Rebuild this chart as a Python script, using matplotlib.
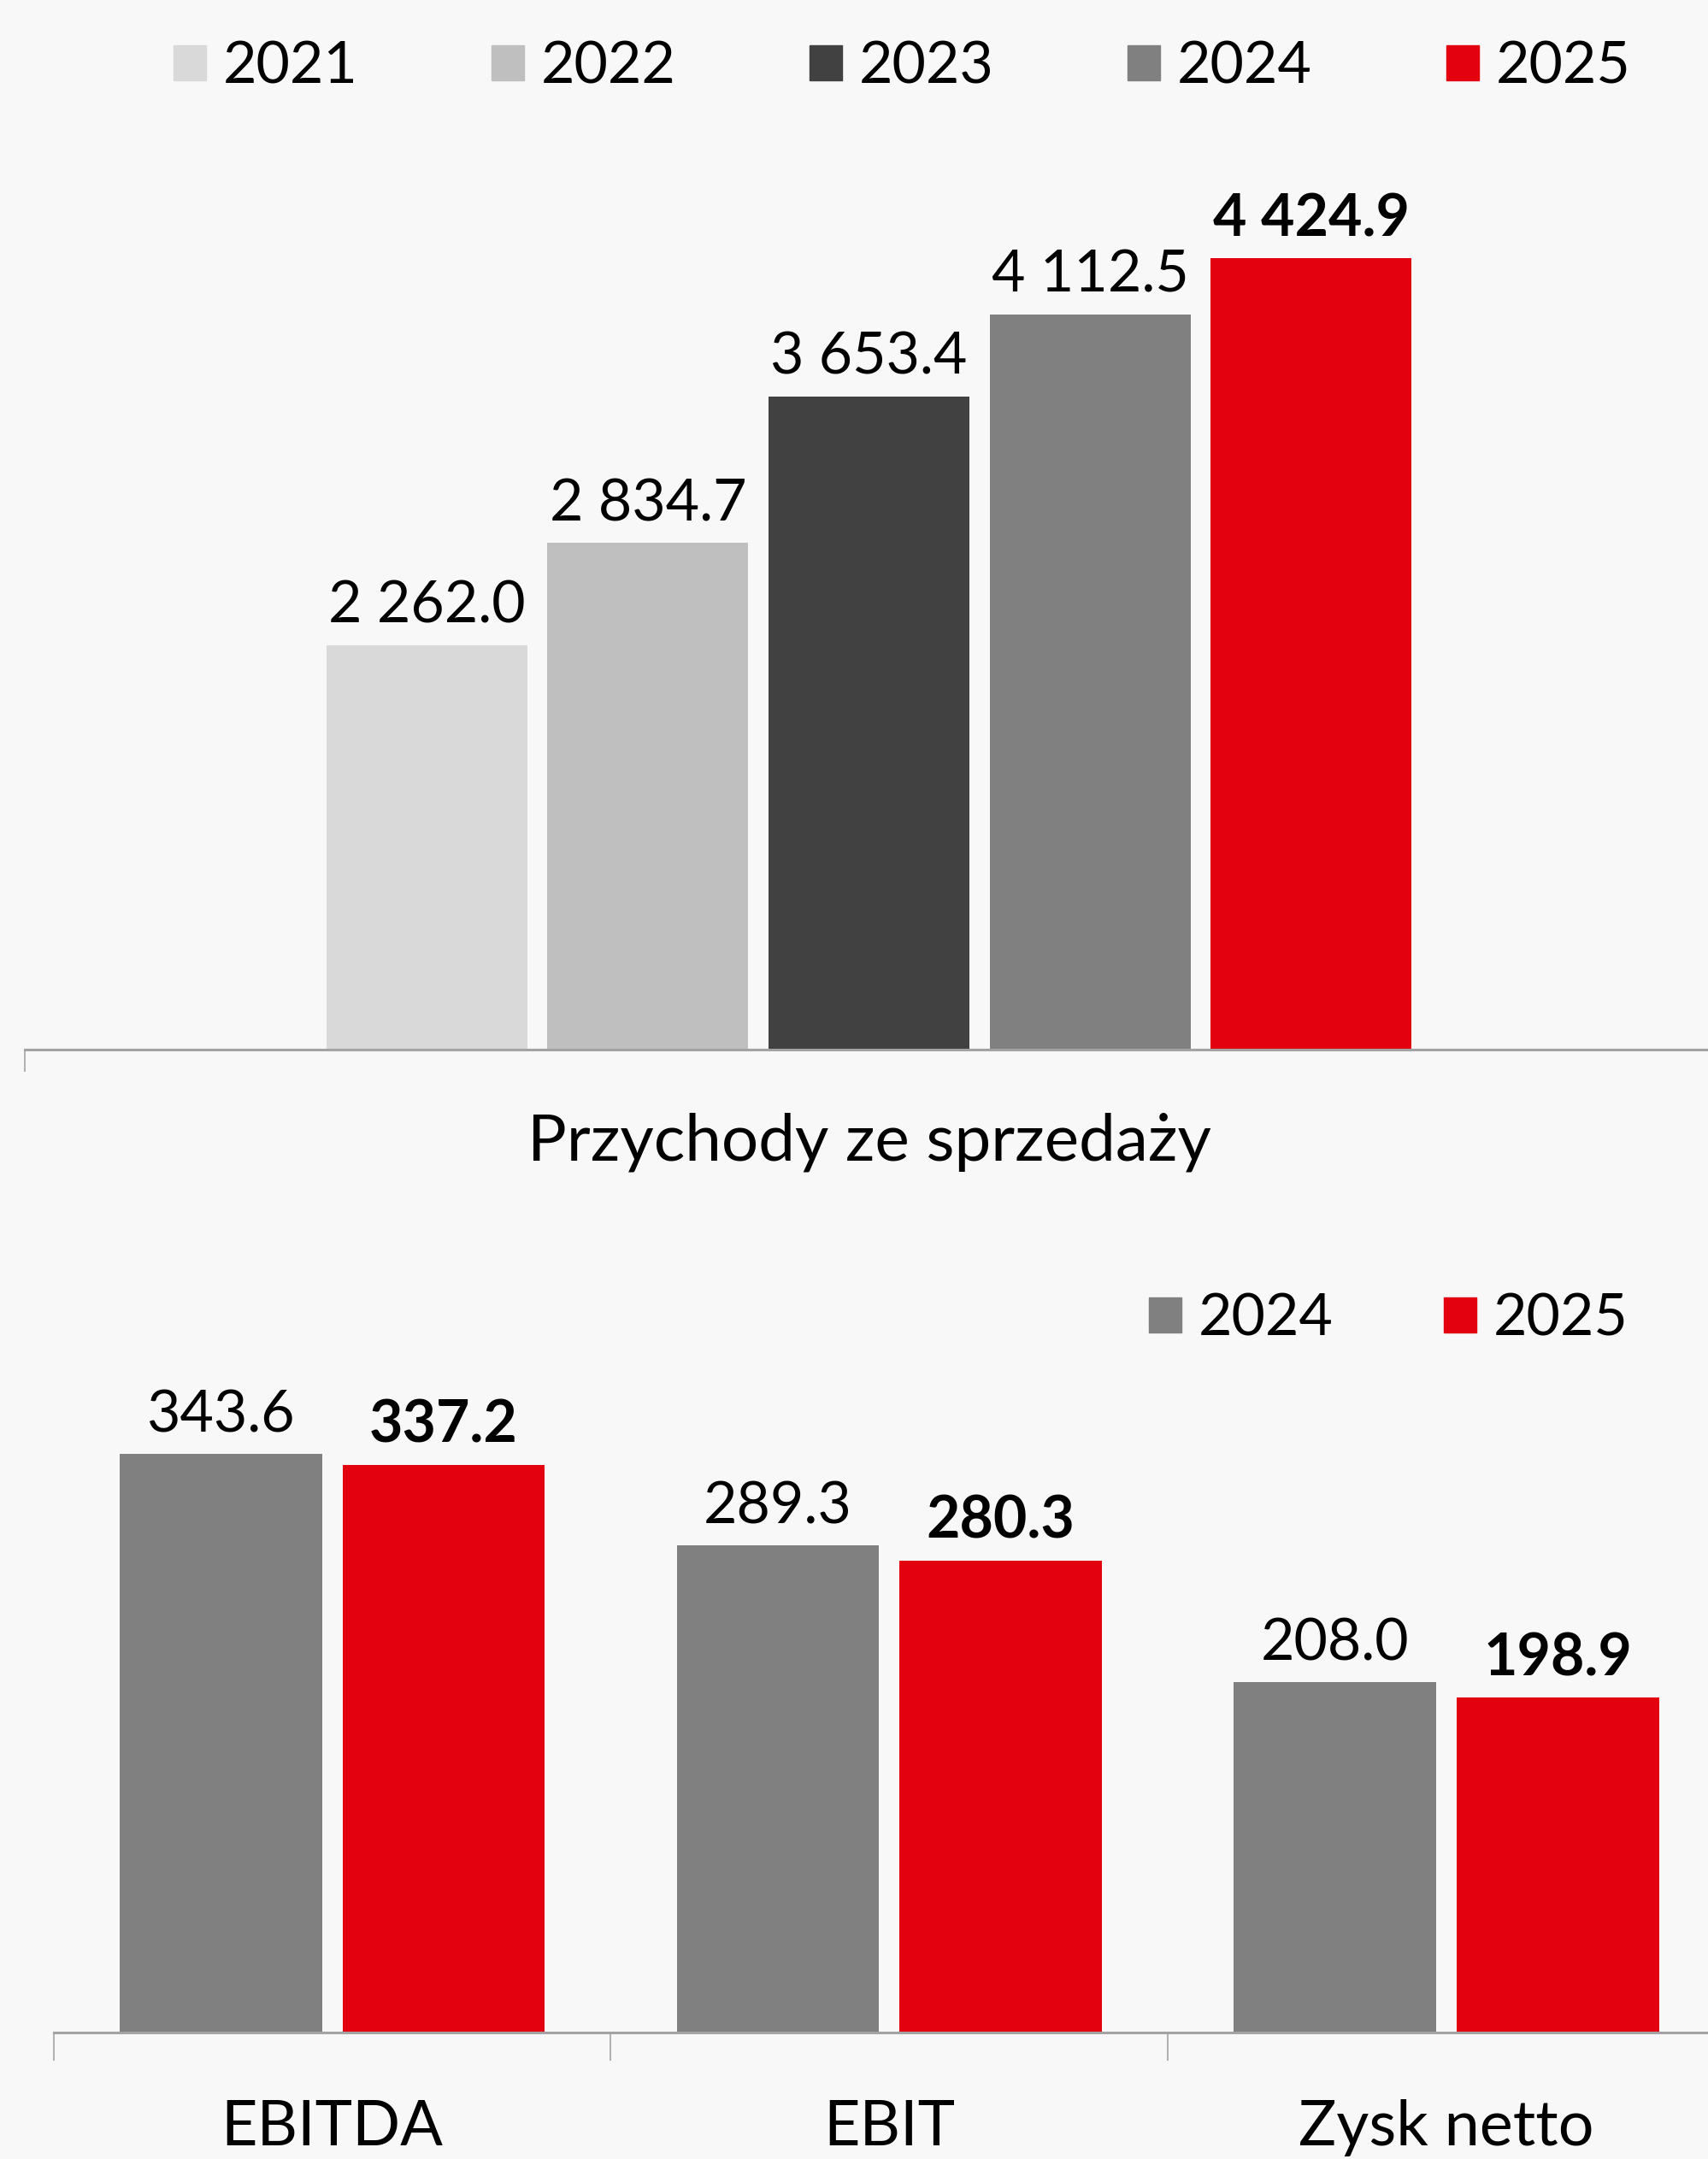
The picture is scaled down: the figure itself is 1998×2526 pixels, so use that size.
import matplotlib
matplotlib.use("Agg")
import matplotlib.pyplot as plt
from matplotlib.patches import Patch
from matplotlib.transforms import blended_transform_factory

plt.rcParams['font.family'] = ['Lato', 'DejaVu Sans']

# data
years = ['2021', '2022', '2023', '2024', '2025']
year_colors = ['#D9D9D9', '#BFBFBF', '#414141', '#808080', '#E3000F']
sales_label = 'Przychody ze sprzedaży'
sales = [2262.0, 2834.7, 3653.4, 4112.5, 4424.9]

metrics = ['EBITDA', 'EBIT', 'Zysk netto']
vals_2024 = [343.6, 289.3, 208.0]
vals_2025 = [337.2, 280.3, 198.9]

bg = '#F8F8F8'
fs = 49
axis_col = '#A3A3A3'


def fmt(v):
    return f"{v:,.1f}".replace(",", " ")


fig = plt.figure(figsize=(19.98, 25.26), dpi=100, facecolor=bg)

# ---------- top chart ----------
ax1 = fig.add_axes([0.0145, 0.5139, 0.9885, 0.414])
ax1.set_facecolor(bg)
step = 0.131
w = 0.119
for i, (y, v, c) in enumerate(zip(years, sales, year_colors)):
    x = (i - 2) * step
    ax1.bar(x, v, width=w, color=c, zorder=1)
    ax1.annotate(fmt(v), (x, v), xytext=(0, 10), textcoords='offset points',
                 ha='center', va='bottom', fontsize=fs,
                 fontweight='bold' if y == '2025' else 'normal')
ax1.set_xlim(-0.5, 0.5)
ax1.set_ylim(0, 5000)
for s in ['top', 'left', 'right']:
    ax1.spines[s].set_visible(False)
ax1.spines['bottom'].set_color(axis_col)
ax1.spines['bottom'].set_linewidth(2.2)
ax1.set_yticks([])
ax1.set_xticks([-0.5])
ax1.set_xticklabels([''])
ax1.tick_params(axis='x', length=19, width=1.2, color=axis_col)
tr1 = blended_transform_factory(ax1.transData, ax1.transAxes)
ax1.text(0, -0.104, sales_label, transform=tr1, ha='center', va='center', fontsize=55)

leg1 = fig.legend(handles=[Patch(color=c, label=y) for y, c in zip(years, year_colors)],
                  loc='center', bbox_to_anchor=(0.528, 0.9688), ncol=5, frameon=False,
                  fontsize=fs, handlelength=0.56, handleheight=0.56, handletextpad=0.29,
                  columnspacing=2.3, borderpad=0, borderaxespad=0)

# ---------- bottom chart ----------
ax2 = fig.add_axes([0.0314, 0.0586, 0.9786, 0.312])
ax2.set_facecolor(bg)
xs = list(range(len(metrics)))
bw = 0.363
ax2.bar([x - 0.2 for x in xs], vals_2024, width=bw, color=year_colors[3], zorder=1)
ax2.bar([x + 0.2 for x in xs], vals_2025, width=bw, color=year_colors[4], zorder=1)
for x, a, b in zip(xs, vals_2024, vals_2025):
    ax2.annotate(fmt(a), (x - 0.2, a), xytext=(0, 10), textcoords='offset points',
                 ha='center', va='bottom', fontsize=fs)
    ax2.annotate(fmt(b), (x + 0.2, b), xytext=(0, 10), textcoords='offset points',
                 ha='center', va='bottom', fontsize=fs, fontweight='bold')
ax2.set_xlim(-0.5, len(metrics) - 0.5)
ax2.set_ylim(0, 400)
for s in ['top', 'left', 'right']:
    ax2.spines[s].set_visible(False)
ax2.spines['bottom'].set_color(axis_col)
ax2.spines['bottom'].set_linewidth(2.2)
ax2.set_yticks([])
ax2.set_xticks([x - 0.5 for x in xs] + [len(metrics) - 0.5])
ax2.set_xticklabels([''] * (len(metrics) + 1))
ax2.tick_params(axis='x', length=24, width=1.2, color=axis_col)
tr2 = blended_transform_factory(ax2.transData, ax2.transAxes)
for x, m in zip(xs, metrics):
    ax2.text(x, -0.142, m, transform=tr2, ha='center', va='center', fontsize=53)

leg2 = fig.legend(handles=[Patch(color=year_colors[3], label='2024'),
                           Patch(color=year_colors[4], label='2025')],
                  loc='center', bbox_to_anchor=(0.813, 0.3889), ncol=2, frameon=False,
                  fontsize=fs, handlelength=0.56, handleheight=0.56, handletextpad=0.29,
                  columnspacing=1.9, borderpad=0, borderaxespad=0)

fig.savefig('out.png', dpi=100, facecolor=bg)
